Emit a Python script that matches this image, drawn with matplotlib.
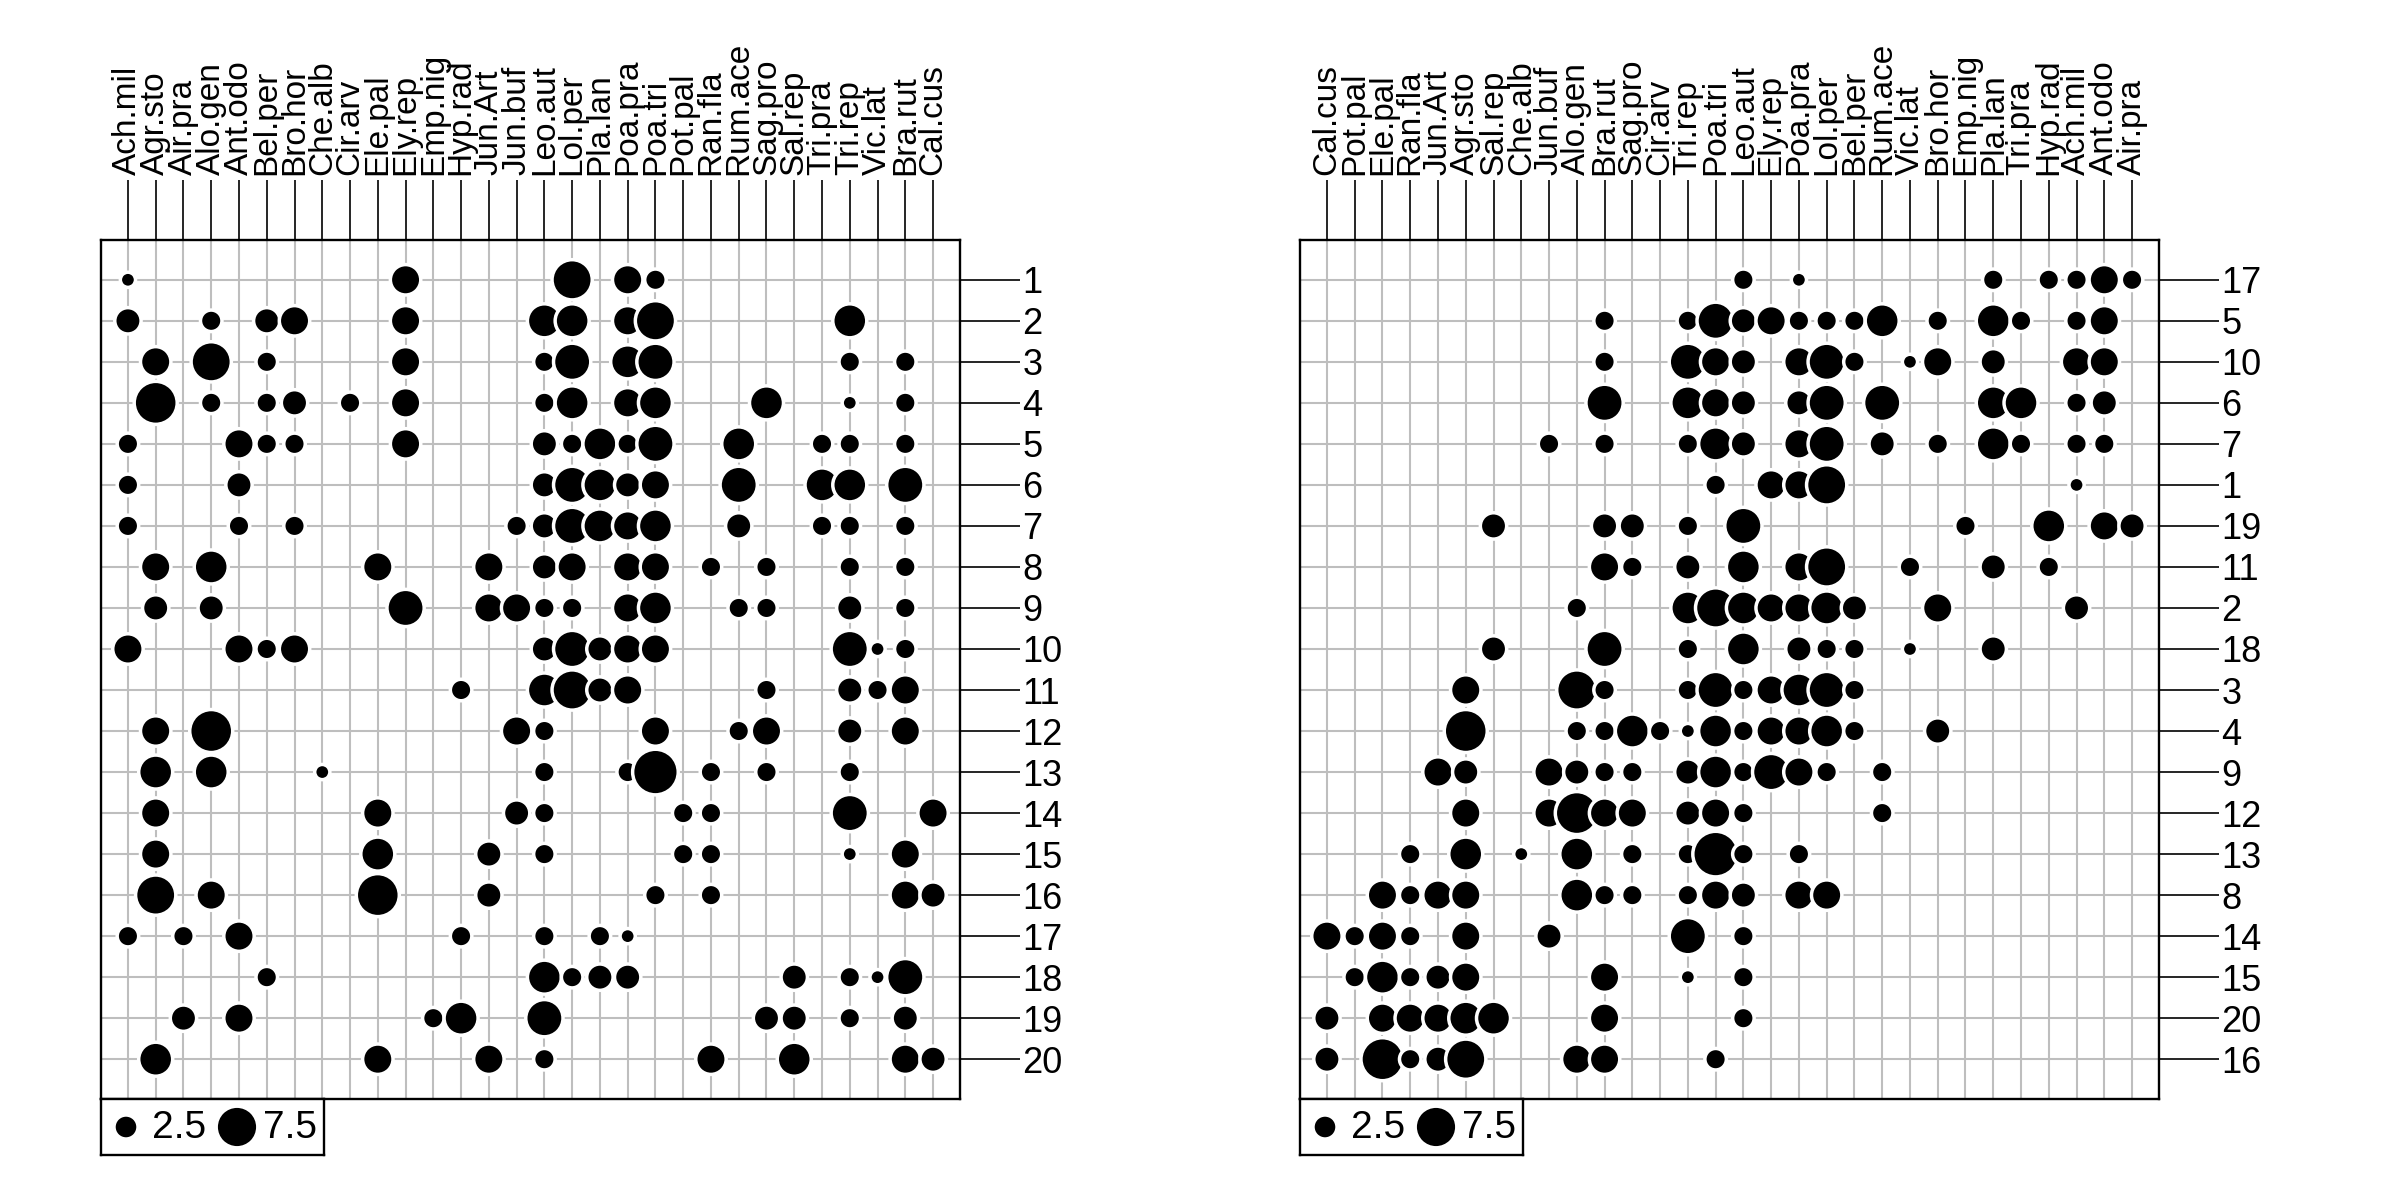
import matplotlib
matplotlib.use("Agg")
import matplotlib.pyplot as plt
import numpy as np

plt.rcParams['font.family'] = ['Liberation Sans', 'DejaVu Sans']

# ---- data (dune meadow vegetation, cover classes) ----
species = ["Ach.mil", "Agr.sto", "Air.pra", "Alo.gen", "Ant.odo", "Bel.per", "Bro.hor",
           "Che.alb", "Cir.arv", "Ele.pal", "Ely.rep", "Emp.nig", "Hyp.rad", "Jun.Art",
           "Jun.buf", "Leo.aut", "Lol.per", "Pla.lan", "Poa.pra", "Poa.tri", "Pot.pal",
           "Ran.fla", "Rum.ace", "Sag.pro", "Sal.rep", "Tri.pra", "Tri.rep", "Vic.lat",
           "Bra.rut", "Cal.cus"]
sites = [str(i) for i in range(1, 21)]

s01 = [1,0,0,0,0, 0,0,0,0,0, 4,0,0,0,0, 0,7,0,4,2, 0,0,0,0,0, 0,0,0,0,0]
s02 = [3,0,0,2,0, 3,4,0,0,0, 4,0,0,0,0, 5,5,0,4,7, 0,0,0,0,0, 0,5,0,0,0]
s03 = [0,4,0,7,0, 2,0,0,0,0, 4,0,0,0,0, 2,6,0,5,6, 0,0,0,0,0, 0,2,0,2,0]
s04 = [0,8,0,2,0, 2,3,0,2,0, 4,0,0,0,0, 2,5,0,4,5, 0,0,0,5,0, 0,1,0,2,0]
s05 = [2,0,0,0,4, 2,2,0,0,0, 4,0,0,0,0, 3,2,5,2,6, 0,0,5,0,0, 2,2,0,2,0]
s06 = [2,0,0,0,3, 0,0,0,0,0, 0,0,0,0,0, 3,6,5,3,4, 0,0,6,0,0, 5,5,0,6,0]
s07 = [2,0,0,0,2, 0,2,0,0,0, 0,0,0,0,2, 3,6,5,4,5, 0,0,3,0,0, 2,2,0,2,0]
s08 = [0,4,0,5,0, 0,0,0,0,4, 0,0,0,4,0, 3,4,0,4,4, 0,2,0,2,0, 0,2,0,2,0]
s09 = [0,3,0,3,0, 0,0,0,0,0, 6,0,0,4,4, 2,2,0,4,5, 0,0,2,2,0, 0,3,0,2,0]
s10 = [4,0,0,0,4, 2,4,0,0,0, 0,0,0,0,0, 3,6,3,4,4, 0,0,0,0,0, 0,6,1,2,0]
s11 = [0,0,0,0,0, 0,0,0,0,0, 0,0,2,0,0, 5,7,3,4,0, 0,0,0,2,0, 0,3,2,4,0]
s12 = [0,4,0,8,0, 0,0,0,0,0, 0,0,0,0,4, 2,0,0,0,4, 0,0,2,4,0, 0,3,0,4,0]
s13 = [0,5,0,5,0, 0,0,1,0,0, 0,0,0,0,0, 2,0,0,2,9, 0,2,0,2,0, 0,2,0,0,0]
s14 = [0,4,0,0,0, 0,0,0,0,4, 0,0,0,0,3, 2,0,0,0,0, 2,2,0,0,0, 0,6,0,0,4]
s15 = [0,4,0,0,0, 0,0,0,0,5, 0,0,0,3,0, 2,0,0,0,0, 2,2,0,0,0, 0,1,0,4,0]
s16 = [0,7,0,4,0, 0,0,0,0,8, 0,0,0,3,0, 0,0,0,0,2, 0,2,0,0,0, 0,0,0,4,3]
s17 = [2,0,2,0,4, 0,0,0,0,0, 0,0,2,0,0, 2,0,2,1,0, 0,0,0,0,0, 0,0,0,0,0]
s18 = [0,0,0,0,0, 2,0,0,0,0, 0,0,0,0,0, 5,2,3,3,0, 0,0,0,0,3, 0,2,1,6,0]
s19 = [0,0,3,0,4, 0,0,0,0,0, 0,2,5,0,0, 6,0,0,0,0, 0,0,0,3,3, 0,2,0,3,0]
s20 = [0,5,0,0,0, 0,0,0,0,4, 0,0,0,4,0, 2,0,0,0,0, 0,4,0,0,5, 0,0,0,4,3]

# reordered version (right panel)
right_species = ["Cal.cus", "Pot.pal", "Ele.pal", "Ran.fla", "Jun.Art", "Agr.sto", "Sal.rep",
                 "Che.alb", "Jun.buf", "Alo.gen", "Bra.rut", "Sag.pro", "Cir.arv", "Tri.rep",
                 "Poa.tri", "Leo.aut", "Ely.rep", "Poa.pra", "Lol.per", "Bel.per", "Rum.ace",
                 "Vic.lat", "Bro.hor", "Emp.nig", "Pla.lan", "Tri.pra", "Hyp.rad", "Ach.mil",
                 "Ant.odo", "Air.pra"]
right_sites = ["17", "5", "10", "6", "7", "1", "19", "11", "2", "18",
               "3", "4", "9", "12", "13", "8", "14", "15", "20", "16"]

legend_values = [2.5, 7.5]

table = np.array([s01, s02, s03, s04, s05, s06, s07, s08, s09, s10,
                  s11, s12, s13, s14, s15, s16, s17, s18, s19, s20], dtype=float)

# ---- styling ----
W, H = 2400, 1200
DPI = 100
SIZE_K = 119.8          # marker area (pt^2) per unit of value
EDGE_LW = 2.5
GRID_C = "#BEBEBE"
COL_FS = 24
ROW_FS = 26
LEG_FS = 28

fig = plt.figure(figsize=(W / DPI, H / DPI), dpi=DPI)


def px_axes(x0, y0, x1, y1):
    return fig.add_axes([x0 / W, 1 - y1 / H, (x1 - x0) / W, (y1 - y0) / H])


def draw_panel(x0, mat, col_names, row_names):
    ax = px_axes(x0, 240, x0 + 859, 1099)
    ncol, nrow = len(col_names), len(row_names)
    ax.set_xlim(0.03, ncol + 0.97)
    ax.set_ylim(nrow + 0.97, 0.03)
    xs = np.arange(1, ncol + 1)
    ys = np.arange(1, nrow + 1)
    ax.vlines(xs, 0, nrow + 1, colors=GRID_C, lw=1.5, zorder=1)
    ax.hlines(ys, 0, ncol + 1, colors=GRID_C, lw=1.5, zorder=1)
    px, py, pv = [], [], []
    for i in range(nrow):
        for j in range(ncol):
            if mat[i, j] > 0:
                px.append(j + 1)
                py.append(i + 1)
                pv.append(mat[i, j])
    ax.scatter(px, py, s=SIZE_K * np.array(pv), c="black", edgecolors="white",
               linewidths=EDGE_LW, zorder=3, clip_on=False)
    ax.set_xticks(xs)
    ax.set_xticklabels(col_names)
    ax.set_yticks(ys)
    ax.set_yticklabels(row_names)
    ax.tick_params(axis="x", top=True, bottom=False, labeltop=True, labelbottom=False,
                   labelrotation=90, length=43, width=1.2, pad=3.5, labelsize=COL_FS,
                   direction="out")
    ax.tick_params(axis="y", left=False, right=True, labelleft=False, labelright=True,
                   length=43, width=1.2, pad=2, labelsize=ROW_FS, direction="out")
    for sp in ax.spines.values():
        sp.set_linewidth(1.7)
        sp.set_color("black")
        sp.set_zorder(5)

    # legend box under the panel
    lg = px_axes(x0, 1099, x0 + 223, 1155)
    lg.set_xlim(0, 223)
    lg.set_ylim(0, 56)
    lg.set_xticks([])
    lg.set_yticks([])
    for sp in lg.spines.values():
        sp.set_linewidth(1.7)
    cx = [25, 136]
    lg.scatter(cx, [28, 28], s=SIZE_K * np.array(legend_values), c="black",
               edgecolors="white", linewidths=EDGE_LW, zorder=3, clip_on=False)
    for xc, v in zip(cx, legend_values):
        lg.text(xc + 26, 27, f"{v:.1f}", fontsize=LEG_FS, ha="left", va="center")
    return ax


draw_panel(101, table, species, sites)

ci = [species.index(n) for n in right_species]
ri = [sites.index(n) for n in right_sites]
draw_panel(1300, table[np.ix_(ri, ci)], right_species, right_sites)

fig.savefig("out.png", dpi=DPI, facecolor="white")
